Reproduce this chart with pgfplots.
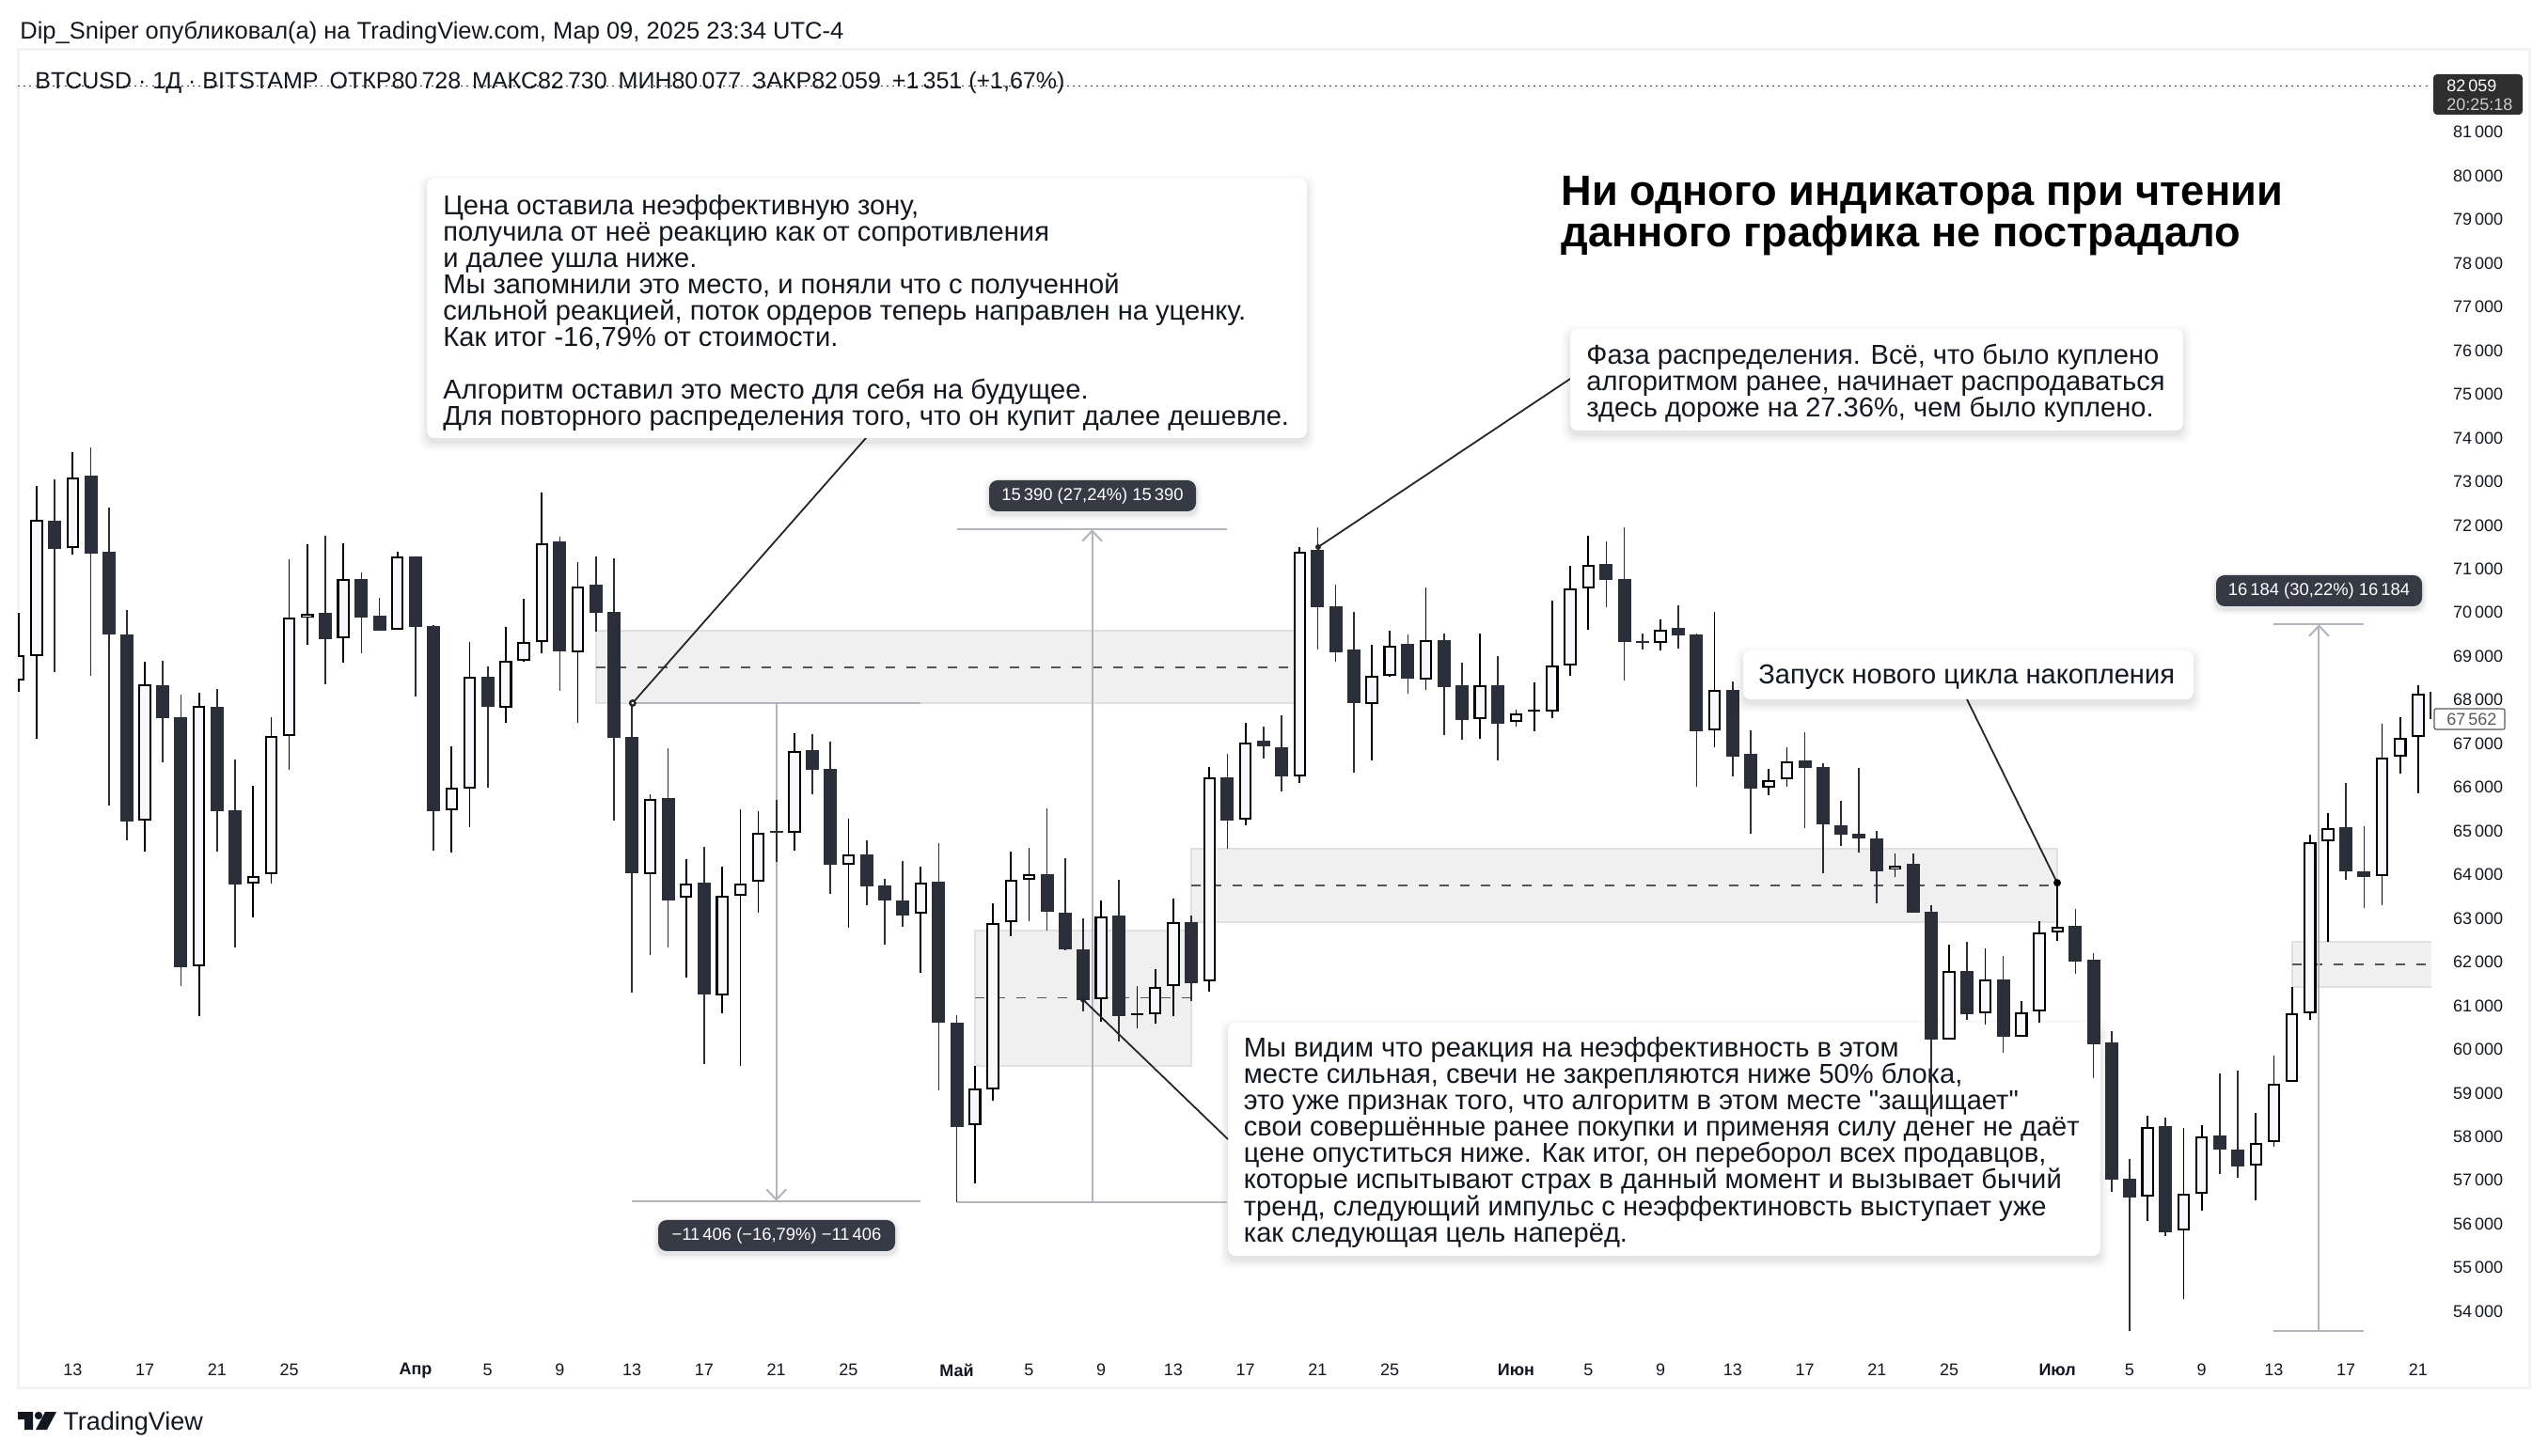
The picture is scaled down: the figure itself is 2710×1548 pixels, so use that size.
\documentclass[border=0pt]{standalone}
\usepackage{fontspec}
\usepackage{pgfplots}
\usepackage{pgfplotstable}
\pgfplotsset{compat=1.18}
\usetikzlibrary{arrows.meta}
\setmainfont{Liberation Sans}
\newfontfamily\plainf{Liberation Sans}
\definecolor{cdark}{HTML}{2A2E39}
\definecolor{cfill}{HTML}{F8F9FD}
\definecolor{ztxt}{HTML}{131722}
\definecolor{zfill}{HTML}{F0F0F0}
\definecolor{zedge}{HTML}{E0E0E0}
\definecolor{zdash}{HTML}{555555}
\definecolor{mline}{HTML}{B2B5BE}
\definecolor{pill}{HTML}{363A45}
\definecolor{frame}{HTML}{F3F3F5}

\pgfplotstableread{
i o h l c
0 68455 69992 68186 69031
1 69002 72903 67109 72125
3 71471 73672 71337 73105
7 65236 68877 64534 68349
10 61912 68166 60768 67859
13 63804 66033 63026 63977
14 64006 67609 63795 67186
15 67186 71222 66408 69877
16 69877 71568 69262 69982
18 69415 71587 68858 70780
21 69598 71385 69598 71279
24 65466 66937 64515 65985
25 65976 69319 65092 68522
27 67830 69675 67475 68906
28 68887 70309 68868 69338
29 69319 72749 69069 71596
31 69089 71154 67475 70607
35 64020 65848 62158 65741
37 63468 64366 61648 63797
39 61244 64185 60824 63509
40 63509 65494 59621 63797
41 63839 65453 63130 64967
43 64951 67240 64555 66837
46 64234 65280 62784 64465
50 63105 64185 61755 63822
53 58262 59621 56928 59094
54 59086 63336 58822 62900
55 62908 64530 62587 63888
56 63888 64613 62933 64003
60 61153 63410 60634 63048
62 60785 61450 60478 60829
63 60799 61837 60585 61433
64 61442 63451 60758 62916
66 61557 66466 61318 66236
68 65255 67471 65132 67026
71 66246 71493 66089 71385
75 67901 69260 66624 68544
76 68544 69590 68527 69244
78 68461 70586 68239 69376
81 67555 69516 67119 68329
83 67506 67786 67399 67695
84 67739 68395 67292 67783
85 67728 70273 67588 68783
86 68783 71072 68560 70545
87 70554 71756 69614 71097
91 69301 69837 69137 69614
94 67300 70018 66921 68231
97 65990 66419 65817 66163
98 66188 66913 66015 66600
104 64112 64482 63937 64215
107 60229 62392 60229 61784
109 60827 62309 60569 61609
111 60291 61105 60291 60857
112 60868 62938 60621 62670
113 62670 63813 62474 62814
118 56625 58479 56059 58231
120 55853 58201 54287 56697
121 56687 58273 56316 58015
124 57336 58540 56553 57861
125 57881 59859 57768 59220
126 59251 61424 59251 60816
127 60827 64915 60672 64750
128 64760 65409 62454 65069
131 63967 67448 63298 66686
132 66707 67603 66305 67129
133 67150 68344 65852 68148
}\upcandles

\pgfplotstableread{
i o h l c
2 72106 73047 68647 71462
4 73134 73787 68551 71347
5 71395 72413 65572 69502
6 69502 70059 64784 65217
8 68339 68897 66571 67580
9 67609 68118 61450 61883
11 67840 68253 64525 65457
12 65476 66639 62334 63775
17 69992 71760 68358 69396
19 70770 70924 69069 69886
20 69934 70338 69588 69588
22 71289 71289 68080 69675
23 69694 69713 64554 65457
26 68531 68772 65995 67840
30 71635 71741 68205 69108
32 70645 71289 69559 69992
33 70021 71241 65236 67129
34 67150 67932 61302 64036
36 65758 66886 62331 63410
38 63814 64638 59671 61252
42 65006 65708 64292 64962
44 66853 67208 65840 66400
45 66425 67043 63559 64226
47 64473 64786 63303 63740
48 63756 63896 62397 63410
49 63410 64316 62809 63064
51 63839 64712 59061 60618
52 60610 60783 56499 58221
57 64003 65519 62718 63147
58 63138 64374 62273 62290
59 62298 62998 60865 61137
61 63064 63880 60181 60766
65 62908 63064 61112 61516
67 66219 66763 64596 65239
69 67059 67389 66656 66936
70 66913 67646 65908 66254
72 71443 71946 69161 70133
73 70142 70644 68881 69096
74 69153 70018 66344 67934
77 69285 69491 68148 68478
79 69367 69516 67201 68305
80 68338 68848 67094 67547
82 68338 69005 66624 67456
88 71114 71624 70133 70751
89 70768 71946 68445 69318
90 69348 69532 69161 69304
92 69647 70166 69186 69474
93 69499 69532 66015 67292
95 68231 68420 66246 66707
96 66764 67308 64936 65974
99 66616 67259 65076 66451
100 66468 66550 64038 65142
101 65125 65694 64656 64919
102 64936 66443 64508 64837
103 64822 64997 63350 64081
105 64245 64482 63123 63123
106 63154 63298 58458 60219
108 61795 62464 60672 60796
110 61599 62134 59920 60281
114 62824 63216 61733 62011
115 62052 62206 59333 60126
116 60157 60415 56738 57016
117 57037 57480 53546 56604
119 58242 58437 55729 55801
122 58026 59447 57140 57706
123 57706 59508 57068 57315
129 65080 66109 63885 64081
130 64081 65111 63226 63957
134 68190 68190 67562 67562
}\downcandles

\newcommand\callbox[4]{%
  \foreach \k/\op in {9/0.012,7/0.016,5/0.02,3/0.025,1/0.03}{%
    \fill[black,opacity=\op,rounded corners=5pt] (#1-\k,#2-\k+5) rectangle (#3+\k,#4+\k+5);}
  \fill[white,rounded corners=4pt] (#1,#2) rectangle (#3,#4);}
\newcommand\pillbox[5]{%
  \foreach \k/\op in {6/0.02,4/0.03,2/0.05}{%
    \fill[black,opacity=\op,rounded corners=5pt] (#1-\k,#2-\k+3) rectangle (#3+\k,#4+\k+3);}
  \fill[pill,rounded corners=4.5pt] (#1,#2) rectangle (#3,#4);
  \node[white,inner sep=0pt,font=\fontsize{9.2}{11}\selectfont] at ({(#1+#3)/2},{(#2+#4)/2}) {#5};}
\tikzset{ctext/.style={anchor=north west,inner sep=0pt,align=left,text=ztxt,font=\fontsize{14.55}{13.95}\selectfont}}

\begin{document}
\begin{tikzpicture}
\begin{scope}[x=0.5pt,y=-0.5pt,yshift=774pt]
\fill[white] (0,0) rectangle (2710,1548);
\draw[frame,line width=1.5pt] (19,53) rectangle (2690,1477);
\callbox{1306}{1088}{2234}{1336}
\node[ctext,font=\fontsize{14.55}{14.05}\selectfont] at (1322.5,1103) {Мы видим что реакция на неэффективность в этом\\
месте сильная, свечи не закрепляются ниже 50\% блока,\\
это уже признак того, что алгоритм в этом месте {\plainf"защищает"}\\
свои совершённые ранее покупки и применяя силу денег не даёт\\
цене опуститься ниже. Как итог, он переборол всех продавцов,\\
которые испытывают страх в данный момент и вызывает бычий\\
тренд, следующий импульс с неэффектиновсть выступает уже\\
как следующая цель наперёд.};
\end{scope}

\begin{axis}[
  at={(9.5pt,35.5pt)},anchor=south west,
  width=1283.5pt,height=712pt,scale only axis,
  xmin=-0.04,xmax=133.73,ymin=52238,ymax=82888,
  axis line style={draw=none},
  tick style={draw=none},
  scaled y ticks=false,
  xtick={3,7,11,15,22,26,30,34,38,42,46,52,56,60,64,68,72,76,83,87,91,95,99,103,107,113,117,121,125,129,133},
  xticklabels={13,17,21,25,\textbf{Апр},5,9,13,17,21,25,\textbf{Май},5,9,13,17,21,25,\textbf{Июн},5,9,13,17,21,25,\textbf{Июл},5,9,13,17,21},
  xticklabel style={font=\fontsize{9}{11}\selectfont,text=ztxt,anchor=center,yshift=9.65pt},
  ytick={54000,55000,56000,57000,58000,59000,60000,61000,62000,63000,64000,65000,66000,67000,68000,69000,70000,71000,72000,73000,74000,75000,76000,77000,78000,79000,80000,81000},
  yticklabel pos=right,
  yticklabel style={font=\fontsize{9}{11}\selectfont,text=ztxt,anchor=west,xshift=8pt,
    /pgf/number format/assume math mode=true,
    /pgf/number format/fixed,
    /pgf/number format/precision=0,
    /pgf/number format/1000 sep={\,},
    /pgf/number format/min exponent for 1000 sep=0},
]
% zones
\addplot[fill=zfill,draw=zedge,line width=1pt,forget plot] coordinates {(32,69579)(71,69579)(71,67926)(32,67926)} -- cycle;
\addplot[fill=zfill,draw=zedge,line width=1pt,forget plot] coordinates {(53,62727)(65,62727)(65,59613)(53,59613)} -- cycle;
\addplot[fill=zfill,draw=zedge,line width=1pt,forget plot] coordinates {(65,64596)(113,64596)(113,62908)(65,62908)} -- cycle;
\addplot[fill=zfill,draw=zedge,line width=1pt,forget plot] coordinates {(126,62454)(136,62454)(136,61424)(126,61424)} -- cycle;
\addplot[zdash,line width=.85pt,dash pattern=on 5pt off 6pt,forget plot] coordinates {(32,68743)(71,68743)};
\addplot[zdash,line width=.85pt,dash pattern=on 5pt off 6pt,forget plot] coordinates {(53,61178)(65,61178)};
\addplot[zdash,line width=.85pt,dash pattern=on 5pt off 6pt,forget plot] coordinates {(65,63756)(113,63756)};
\addplot[zdash,line width=.85pt,dash pattern=on 5pt off 6pt,forget plot] coordinates {(126,61949)(136,61949)};
% measures
\addplot[mline,line width=1pt,forget plot] coordinates {(34,67926)(50,67926)};
\addplot[mline,line width=1pt,forget plot] coordinates {(34,56527)(50,56527)};
\addplot[mline,line width=1pt,-{Straight Barb[length=5.5pt,width=10.5pt]},forget plot] coordinates {(42,67926)(42,56527)};
\addplot[mline,line width=1pt,forget plot] coordinates {(52,56506)(67,56506)};
\addplot[mline,line width=1pt,forget plot] coordinates {(52,71904)(67,71904)};
\addplot[mline,line width=1pt,-{Straight Barb[length=5.5pt,width=10.5pt]},forget plot] coordinates {(59.5,56506)(59.5,71904)};
\addplot[mline,line width=1pt,forget plot] coordinates {(125,53546)(130,53546)};
\addplot[mline,line width=1pt,forget plot] coordinates {(125,69730)(130,69730)};
\addplot[mline,line width=1pt,-{Straight Barb[length=5.5pt,width=10.5pt]},forget plot] coordinates {(127.5,53546)(127.5,69730)};
% last price
\addplot[black!80,line width=.75pt,dash pattern=on 1pt off 2.1pt,forget plot] coordinates {(-0.04,82059)(133.73,82059)};
% wicks
\addplot[draw=none,mark=none,forget plot,error bars/.cd,y dir=both,y explicit,error mark=none,error bar style={line width=.85pt,color=cdark}]
  table[x=i,y=o,y error plus expr={\thisrow{h}-\thisrow{o}},y error minus expr={\thisrow{o}-\thisrow{l}}] {\downcandles};
\addplot[draw=none,mark=none,forget plot,error bars/.cd,y dir=both,y explicit,error mark=none,error bar style={line width=.85pt,color=black}]
  table[x=i,y=o,y error plus expr={\thisrow{h}-\thisrow{o}},y error minus expr={\thisrow{o}-\thisrow{l}}] {\upcandles};
% bodies
\addplot[draw=none,mark=none,forget plot,error bars/.cd,y dir=plus,y explicit,error mark=none,error bar style={line width=7pt,color=cdark}]
  table[x=i,y=c,y error plus expr={\thisrow{o}-\thisrow{c}}] {\downcandles};
\addplot[draw=none,mark=none,forget plot,error bars/.cd,y dir=plus,y explicit,error mark=none,error bar style={line width=6.7pt,color=black}]
  table[x=i,y=o,y error plus expr={\thisrow{c}-\thisrow{o}}] {\upcandles};
\addplot[draw=none,mark=none,forget plot,error bars/.cd,y dir=plus,y explicit,error mark=none,error bar style={line width=4.6pt,color=cfill}]
  table[x=i,y expr={\thisrow{o}+43},y error plus expr={max(\thisrow{c}-\thisrow{o}-86,0)}] {\upcandles};
\end{axis}

\begin{scope}[x=0.5pt,y=-0.5pt,yshift=774pt]
% callout lines
\draw[black!85,line width=.9pt] (672.8,748) -- (921,466);
\draw[black!85,line width=.9pt] (1402,582) -- (1670,403);
\draw[black!85,line width=.9pt] (1152,1063.6) -- (1306,1212);
\draw[black!85,line width=.9pt] (2092,744) -- (2188,939.2);
\fill[black!85] (672.8,748) circle (4);
\fill[cfill] (672.8,748) circle (1.5);
\fill[black!85] (1402,582) circle (3);
\fill[black!85] (1152,1063.6) circle (3);
\fill[black] (2188,939.2) circle (4);
% boxes
\callbox{454}{190}{1390}{466}
\node[ctext] at (471,207.5) {Цена оставила неэффективную зону,\\
получила от неё реакцию как от сопротивления\\
и далее ушла ниже.\\
Мы запомнили это место, и поняли что с полученной\\
сильной реакцией, поток ордеров теперь направлен на уценку.\\
Как итог -16,79\% от стоимости.\\
\mbox{}\\
Алгоритм оставил это место для себя на будущее.\\
Для повторного распределения того, что он купит далее дешевле.};
\callbox{1670}{350}{2322}{458}
\node[ctext] at (1687,366) {Фаза распределения. Всё, что было куплено\\
алгоритмом ранее, начинает распродаваться\\
здесь дороже на 27.36\%, чем было куплено.};
\callbox{1854}{692}{2333}{744}
\node[ctext] at (1870,707) {Запуск нового цикла накопления};
% title
\node[anchor=north west,inner sep=0pt,align=left,font=\fontsize{22.6}{22}\selectfont\bfseries,text=black] at (1660,187) {Ни одного индикатора при чтении\\данного графика не пострадало};
% pills
\pillbox{700}{1298}{952}{1331}{−11\,406 (−16,79\%) −11\,406}
\pillbox{1052}{511}{1272}{544}{15\,390 (27,24\%) 15\,390}
\pillbox{2357}{612}{2576}{645}{16\,184 (30,22\%) 16\,184}
% price tags
\fill[black!82,rounded corners=2pt] (2588,79) rectangle (2683,122);
\node[anchor=west,inner sep=0pt,text=white,font=\fontsize{9}{11}\selectfont] at (2602,91) {82\,059};
\node[anchor=west,inner sep=0pt,text=white!80!black,font=\fontsize{9}{11}\selectfont] at (2602,111) {20:25:18};
\draw[black!65,fill=white,rounded corners=1pt,line width=.6pt] (2589,754) rectangle (2664,776);
\node[anchor=west,inner sep=0pt,text=black!65,font=\fontsize{9}{11}\selectfont] at (2602,765) {67\,562};
% header
\node[anchor=west,inner sep=0pt,text=ztxt,font=\fontsize{12.75}{14}\selectfont] at (21,35) {Dip\_Sniper опубликовал(а) на TradingView.com, Мар 09, 2025 23:34 UTC-4};
\node[anchor=west,inner sep=0pt,text=ztxt,font=\fontsize{12.5}{14}\selectfont] at (37,88) {BTCUSD · 1Д · BITSTAMP\hspace{6pt}ОТКР80\,728\hspace{6pt}МАКС82\,730\hspace{6pt}МИН80\,077\hspace{6pt}ЗАКР82\,059\hspace{6pt}+1\,351 (+1,67\%)};
% logo
\fill[ztxt] (19,1502) -- (35,1502) -- (35,1521) -- (26,1521) -- (26,1510) -- (19,1510) -- cycle;
\fill[ztxt] (41,1506) circle (4.2);
\fill[ztxt] (48,1502) -- (60,1502) -- (50,1521) -- (38,1521) -- cycle;
\node[anchor=west,inner sep=0pt,text=ztxt,font=\fontsize{13.5}{16}\selectfont] at (67,1515) {TradingView};
\pgfresetboundingbox
\useasboundingbox (0,0) rectangle (2710,1548);
\end{scope}
\end{tikzpicture}
\end{document}
